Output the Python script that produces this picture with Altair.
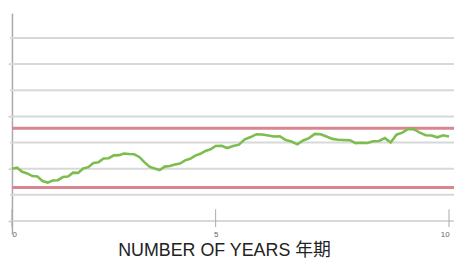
import altair as alt
import pandas as pd

years = [0.0, 0.125, 0.25, 0.375, 0.5, 0.625, 0.75, 0.875, 1.0, 1.125, 1.25, 1.375, 1.5, 1.625, 1.75, 1.875,
         2.0, 2.125, 2.25, 2.375, 2.5, 2.625, 2.75, 2.875, 3.0, 3.125, 3.25, 3.375, 3.5, 3.625, 3.75, 3.875,
         4.0, 4.125, 4.25, 4.375, 4.5, 4.625, 4.75, 4.875, 5.0, 5.125, 5.25, 5.375, 5.5, 5.625, 5.75, 5.875,
         6.0, 6.125, 6.25, 6.375, 6.5, 6.625, 6.75, 6.875, 7.0, 7.125, 7.25, 7.375, 7.5, 7.625, 7.75, 7.875,
         8.0, 8.125, 8.25, 8.375, 8.5, 8.625, 8.75, 8.875, 9.0, 9.125, 9.25, 9.375, 9.5, 9.625, 9.75, 9.875, 10.0]
values = [3.00, 3.04, 2.88, 2.82, 2.72, 2.70, 2.53, 2.47, 2.55, 2.56, 2.68, 2.70, 2.85, 2.84, 3.01, 3.06,
          3.22, 3.25, 3.39, 3.40, 3.51, 3.52, 3.58, 3.56, 3.55, 3.45, 3.25, 3.08, 3.01, 2.95, 3.08, 3.10,
          3.16, 3.20, 3.32, 3.38, 3.50, 3.57, 3.68, 3.74, 3.87, 3.88, 3.79, 3.87, 3.92, 4.12, 4.21, 4.32,
          4.31, 4.27, 4.23, 4.24, 4.10, 4.04, 3.93, 4.08, 4.17, 4.33, 4.32, 4.23, 4.14, 4.11, 4.10, 4.09,
          3.98, 3.99, 3.98, 4.05, 4.06, 4.17, 4.00, 4.30, 4.38, 4.52, 4.50, 4.38, 4.28, 4.27, 4.20, 4.28, 4.23]

grid_levels = [1, 2, 3, 4, 5, 6, 7, 8]
band_levels = [4.55, 2.28]
x_ticks = [0, 5, 10]

line_df = pd.DataFrame({"year": years, "value": values})
grid_df = pd.DataFrame({"level": grid_levels})
band_df = pd.DataFrame({"level": band_levels})
tick_df = pd.DataFrame({"year": x_ticks, "y1": [1.45] * 3, "y2": [0.77] * 3})

xscale = alt.Scale(domain=[0, 5, 10], range=[0, 205.5, 441])
yscale = alt.Scale(domain=[0.5, 8.95], nice=False, zero=False)

grid = alt.Chart(grid_df).mark_rule(color="#d8d8d8", strokeWidth=2).encode(
    y=alt.Y("level:Q", scale=yscale), x=alt.value(-2), x2=alt.value(447)
)
bands = alt.Chart(band_df).mark_rule(color="#d98690", strokeWidth=3).encode(
    y=alt.Y("level:Q", scale=yscale), x=alt.value(0), x2=alt.value(447)
)
ticks = alt.Chart(tick_df).mark_rule(color="#aaaaaa", strokeWidth=1).encode(
    x=alt.X("year:Q", scale=xscale), y=alt.Y("y1:Q", scale=yscale), y2="y2:Q"
)
line = alt.Chart(line_df).mark_line(color="#7dbd50", strokeWidth=2.6).encode(
    x=alt.X("year:Q", scale=xscale,
            axis=alt.Axis(values=x_ticks, domain=False, ticks=False, grid=False,
                          labelFontSize=8, labelColor="#666666", labelPadding=0, offset=-4,
                          title="NUMBER OF YEARS 年期", titleFontSize=18,
                          titleFont="Liberation Sans, Noto Sans CJK SC", titleFontWeight="normal",
                          titleColor="#222222", titlePadding=4, titleX=214)),
    y=alt.Y("value:Q", scale=yscale,
            axis=alt.Axis(values=grid_levels, labels=False, tickSize=4, tickColor="#bbbbbb",
                          domainColor="#aaaaaa", domainWidth=1.5, grid=False, title=""))
)

chart = alt.layer(grid, bands, ticks, line).properties(
    width=441, height=223,
    autosize=alt.AutoSizeParams(type="none"),
    padding={"left": 4, "top": 4, "right": 5, "bottom": 24},
).configure_view(stroke=None).configure_axis(labelFont="Liberation Sans")

chart.save("out.html", embed_options={"renderer": "svg", "actions": False})
